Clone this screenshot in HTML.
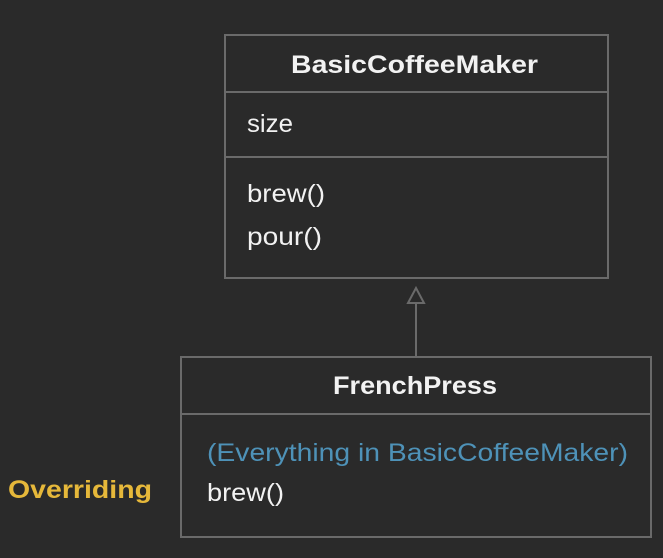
<!DOCTYPE html>
<html><head><style>html,body{margin:0;padding:0;background:#2a2a2a;}svg{display:block}</style></head>
<body>
<svg width="663" height="558" xmlns="http://www.w3.org/2000/svg" font-family="Liberation Sans, sans-serif">
<rect width="663" height="558" fill="#2a2a2a"/>
<g fill="none" stroke="#6a6a6a" stroke-width="2">
<rect x="225" y="35" width="383" height="243"/>
<line x1="225" y1="92" x2="608" y2="92"/>
<line x1="225" y1="157" x2="608" y2="157"/>
<rect x="181" y="357" width="470" height="180"/>
<line x1="181" y1="414" x2="651" y2="414"/>
<line x1="416" y1="303" x2="416" y2="357"/>
<polygon points="416,288 408,303 424,303"/>
</g>
<g fill="#f2f2f2" font-size="25">
<text x="291" y="73" font-weight="bold" textLength="247" lengthAdjust="spacingAndGlyphs">BasicCoffeeMaker</text>
<text x="247" y="132" textLength="46" lengthAdjust="spacingAndGlyphs">size</text>
<text x="247" y="202" textLength="78" lengthAdjust="spacingAndGlyphs">brew()</text>
<text x="247" y="245" textLength="75" lengthAdjust="spacingAndGlyphs">pour()</text>
<text x="333" y="394" font-weight="bold" textLength="164" lengthAdjust="spacingAndGlyphs">FrenchPress</text>
<text x="207" y="501" textLength="77" lengthAdjust="spacingAndGlyphs">brew()</text>
</g>
<text x="207" y="461" font-size="25" fill="#4e92b8" textLength="421" lengthAdjust="spacingAndGlyphs">(Everything in BasicCoffeeMaker)</text>
<text x="8" y="498" font-size="25" font-weight="bold" fill="#e6b83a" textLength="144" lengthAdjust="spacingAndGlyphs">Overriding</text>
</svg>
</body></html>
